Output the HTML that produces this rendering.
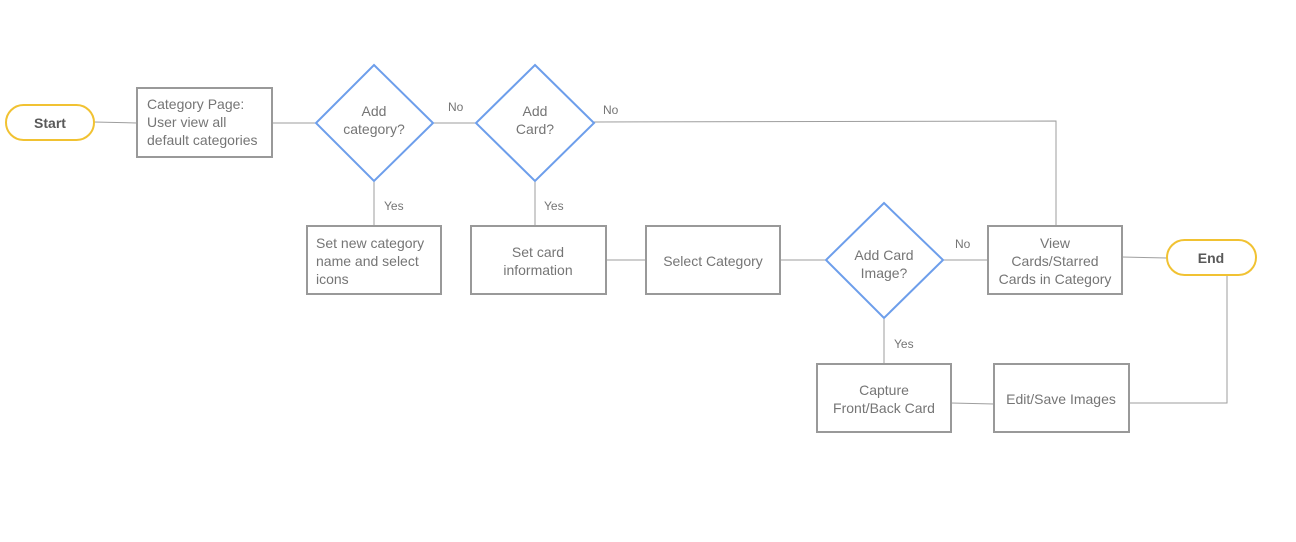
<!DOCTYPE html>
<html><head><meta charset="utf-8"><style>
html,body{margin:0;padding:0;background:#fff;}
svg{display:block}
text{font-family:"Liberation Sans",sans-serif;font-size:14px;fill:#757575;}
.b{fill:#fff;stroke:#999;stroke-width:2}
.d{fill:#fff;stroke:#6d9eeb;stroke-width:2}
.p{fill:#fff;stroke:#f1c232;stroke-width:2}
.l{stroke:#9e9e9e;stroke-width:1;fill:none}
.s{font-size:12px}
</style></head><body>
<svg width="1296" height="542" viewBox="0 0 1296 542">
<path class="l" d="M94 122 L137 123"/>
<path class="l" d="M272 123 L316 123"/>
<path class="l" d="M433 123 L476 123"/>
<path class="l" d="M594 122 L1056 121 L1056 226"/>
<path class="l" d="M374 181 L374 226"/>
<path class="l" d="M535 181 L535 226"/>
<path class="l" d="M606 260 L646 260"/>
<path class="l" d="M780 260 L826 260"/>
<path class="l" d="M943 260 L988 260"/>
<path class="l" d="M1122 257 L1167 258"/>
<path class="l" d="M884 318 L884 364"/>
<path class="l" d="M951 403 L994 404"/>
<path class="l" d="M1129 403 L1227 403 L1227 275"/>
<rect class="p" x="6" y="105" width="88" height="35" rx="17.5"/>
<text x="50" y="128" text-anchor="middle" style="font-weight:bold;fill:#595959">Start</text>
<rect class="p" x="1167" y="240" width="89" height="35" rx="17.5"/>
<text x="1211" y="263" text-anchor="middle" style="font-weight:bold;fill:#595959">End</text>
<rect class="b" x="137" y="88" width="135" height="69"/>
<text x="147" y="109">Category Page:</text>
<text x="147" y="127">User view all</text>
<text x="147" y="145">default categories</text>
<rect class="b" x="307" y="226" width="134" height="68"/>
<text x="316" y="248">Set new category</text>
<text x="316" y="266">name and select</text>
<text x="316" y="284">icons</text>
<rect class="b" x="471" y="226" width="135" height="68"/>
<text x="538" y="257" text-anchor="middle">Set card</text>
<text x="538" y="275" text-anchor="middle">information</text>
<rect class="b" x="646" y="226" width="134" height="68"/>
<text x="713" y="266" text-anchor="middle">Select Category</text>
<rect class="b" x="988" y="226" width="134" height="68"/>
<text x="1055" y="248" text-anchor="middle">View</text>
<text x="1055" y="266" text-anchor="middle">Cards/Starred</text>
<text x="1055" y="284" text-anchor="middle">Cards in Category</text>
<rect class="b" x="817" y="364" width="134" height="68"/>
<text x="884" y="395" text-anchor="middle">Capture</text>
<text x="884" y="413" text-anchor="middle">Front/Back Card</text>
<rect class="b" x="994" y="364" width="135" height="68"/>
<text x="1061" y="404" text-anchor="middle">Edit/Save Images</text>
<polygon class="d" points="374,65 433,123 374,181 316,123"/>
<text x="374" y="116" text-anchor="middle">Add</text>
<text x="374" y="134" text-anchor="middle">category?</text>
<polygon class="d" points="535,65 594,123 535,181 476,123"/>
<text x="535" y="116" text-anchor="middle">Add</text>
<text x="535" y="134" text-anchor="middle">Card?</text>
<polygon class="d" points="884,203 943,260 884,318 826,260"/>
<text x="884" y="260" text-anchor="middle">Add Card</text>
<text x="884" y="278" text-anchor="middle">Image?</text>
<text class="s" x="448" y="111">No</text>
<text class="s" x="603" y="114">No</text>
<text class="s" x="955" y="248">No</text>
<text class="s" x="384" y="210">Yes</text>
<text class="s" x="544" y="210">Yes</text>
<text class="s" x="894" y="348">Yes</text>
</svg>
</body></html>
